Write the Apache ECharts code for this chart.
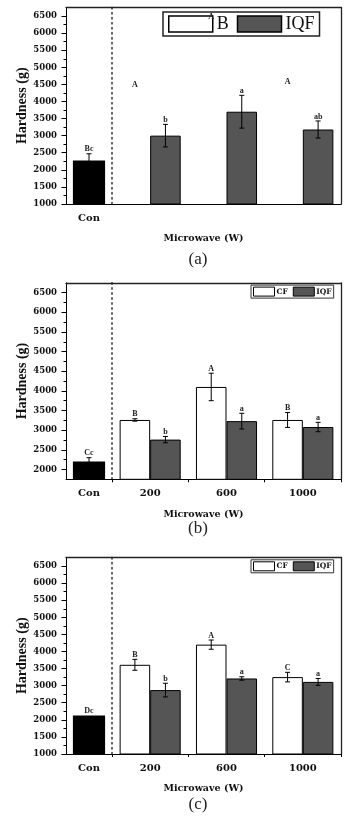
<!DOCTYPE html>
<html><head><meta charset="utf-8">
<script src="https://cdn.jsdelivr.net/npm/echarts@6/dist/echarts.min.js"></script>
<style>html,body{margin:0;padding:0;background:#fff}#c{width:355px;height:819px}</style>
</head><body><div id="c"></div>
<script>
// ---------- DATA ----------
const categoryCon = ['Con'];
const categoriesMw = ['200', '600', '1000'];
const yMajorAC = [1000, 1500, 2000, 2500, 3000, 3500, 4000, 4500, 5000, 5500, 6000, 6500];
const yMinorAC = [1250, 1750, 2250, 2750, 3250, 3750, 4250, 4750, 5250, 5750, 6250];
const yMajorB = [2000, 2500, 3000, 3500, 4000, 4500, 5000, 5500, 6000, 6500];
const yMinorB = [2250, 2750, 3250, 3750, 4250, 4750, 5250, 5750, 6250];

// panel (a)
const aConValue = [2270];
const aConErr = [200];
const aConLetters = ['Bc'];
const aCFValues = [4340, 6330, 4450];
const aCFErr = [0, 0, 0];
const aCFLetters = ['A', 'A', 'A'];
const aIQFValues = [3000, 3700, 3180];
const aIQFErr = [330, 480, 250];
const aIQFLetters = ['b', 'a', 'ab'];

// panel (b)
const bConValue = [2200];
const bConErr = [100];
const bConLetters = ['Cc'];
const bCFValues = [3260, 4100, 3260];
const bCFErr = [30, 350, 190];
const bCFLetters = ['B', 'A', 'B'];
const bIQFValues = [2760, 3230, 3080];
const bIQFErr = [80, 200, 120];
const bIQFLetters = ['b', 'a', 'a'];

// panel (c)
const cConValue = [2130];
const cConErr = [0];
const cConLetters = ['Dc'];
const cCFValues = [3610, 4200, 3250];
const cCFErr = [160, 135, 140];
const cCFLetters = ['B', 'A', 'C'];
const cIQFValues = [2870, 3210, 3110];
const cIQFErr = [200, 50, 100];
const cIQFLetters = ['b', 'a', 'a'];

// ---------- LAYOUT ----------
const panels = [
  { top: 7.5, min: 1000, max: 6750, major: yMajorAC, minor: yMinorAC,
    con: aConValue, conErr: aConErr, conLetters: aConLetters,
    cfName: 'B', cf: aCFValues, cfErr: aCFErr, cfLetters: aCFLetters, cfVisible: false,
    iqf: aIQFValues, iqfErr: aIQFErr, iqfLetters: aIQFLetters,
    mwLabels: false, boundaryTicks: false, bigLegend: true,
    titleY: 239, tagY: 260, tag: '(a)' },
  { top: 282.8, min: 1750, max: 6750, major: yMajorB, minor: yMinorB,
    con: bConValue, conErr: bConErr, conLetters: bConLetters,
    cfName: 'CF', cf: bCFValues, cfErr: bCFErr, cfLetters: bCFLetters, cfVisible: true,
    iqf: bIQFValues, iqfErr: bIQFErr, iqfLetters: bIQFLetters,
    mwLabels: true, boundaryTicks: true, bigLegend: false,
    titleY: 514.3, tagY: 528.3, tag: '(b)' },
  { top: 557.5, min: 1000, max: 6750, major: yMajorAC, minor: yMinorAC,
    con: cConValue, conErr: cConErr, conLetters: cConLetters,
    cfName: 'CF', cf: cCFValues, cfErr: cCFErr, cfLetters: cCFLetters, cfVisible: true,
    iqf: cIQFValues, iqfErr: cIQFErr, iqfLetters: cIQFLetters,
    mwLabels: true, boundaryTicks: true, bigLegend: false,
    titleY: 788.3, tagY: 805, tag: '(c)' }
];

const PLOT_LEFT = 66, SPLIT_X = 112, PLOT_RIGHT = 341, PLOT_H = 196.5;
const black = '#000';
const labelFont = { fontFamily: '"DejaVu Serif"', fontWeight: 'bold', color: '#111' };

function errRender(letters, frac, showBar) {
  return function (params, api) {
    const i = api.value(0), v = api.value(1), e = api.value(2);
    const band = api.size([1, 0])[0];
    const cx = api.coord([i, v])[0] + frac * band;
    const yTop = api.coord([i, v + e])[1];
    const yBot = api.coord([i, v - e])[1];
    const cap = 2.5;
    const ls = { stroke: black, lineWidth: 1 };
    const children = [];
    if (showBar && e > 0) {
      children.push({ type: 'line', shape: { x1: cx, y1: yTop, x2: cx, y2: yBot }, style: ls });
      children.push({ type: 'line', shape: { x1: cx - cap, y1: yTop, x2: cx + cap, y2: yTop }, style: ls });
      children.push({ type: 'line', shape: { x1: cx - cap, y1: yBot, x2: cx + cap, y2: yBot }, style: ls });
    }
    children.push({ type: 'text', x: cx, y: yTop - 0.5,
      style: { text: letters[params.dataIndex], align: 'center', verticalAlign: 'bottom',
               font: 'bold 8px "Liberation Serif"', fill: '#222' } });
    return { type: 'group', children };
  };
}

const grid = [], xAxis = [], yAxis = [], series = [], legend = [], graphic = [];

panels.forEach((p, k) => {
  const gCon = grid.length;
  grid.push({ left: PLOT_LEFT, top: p.top, width: SPLIT_X - PLOT_LEFT, height: PLOT_H });
  const gMw = grid.length;
  grid.push({ left: SPLIT_X, top: p.top, width: PLOT_RIGHT - SPLIT_X, height: PLOT_H });

  const xCon = xAxis.length;
  xAxis.push({ type: 'category', gridIndex: gCon, data: categoryCon, position: 'bottom',
    axisLine: { lineStyle: { color: black, width: 1 } },
    axisTick: { alignWithLabel: true, length: 4.5, lineStyle: { color: black } },
    axisLabel: Object.assign({ margin: 9, fontSize: 10 }, labelFont) });
  xAxis.push({ type: 'category', gridIndex: gCon, data: categoryCon, position: 'top',
    axisLine: { lineStyle: { color: '#222', width: 1.3 } }, axisTick: { show: false }, axisLabel: { show: false } });
  const xMw = xAxis.length;
  xAxis.push({ type: 'category', gridIndex: gMw, data: categoriesMw, position: 'bottom',
    axisLine: { lineStyle: { color: black, width: 1 } },
    axisTick: { show: p.boundaryTicks, length: 3, lineStyle: { color: black } },
    axisLabel: Object.assign({ show: p.mwLabels, margin: 9.5, fontSize: 10 }, labelFont) });
  xAxis.push({ type: 'category', gridIndex: gMw, data: categoriesMw, position: 'bottom',
    axisLine: { show: false },
    axisTick: { alignWithLabel: true, length: 4.5, lineStyle: { color: black } },
    axisLabel: { show: false } });
  xAxis.push({ type: 'category', gridIndex: gMw, data: categoriesMw, position: 'top',
    axisLine: { lineStyle: { color: '#222', width: 1.3 } }, axisTick: { show: false }, axisLabel: { show: false } });

  const yCon = yAxis.length;
  yAxis.push({ type: 'value', gridIndex: gCon, min: p.min, max: p.max, position: 'left',
    name: 'Hardness (g)', nameLocation: 'middle', nameGap: 36, nameRotate: 90,
    nameTextStyle: { fontFamily: '"Liberation Serif"', fontWeight: 'bold', fontSize: 14, color: '#111' },
    splitLine: { show: false },
    axisLine: { show: true, lineStyle: { color: black, width: 1 } },
    axisTick: { show: true, length: 4.5, customValues: p.major, lineStyle: { color: black } },
    axisLabel: Object.assign({ margin: 9, fontSize: 8.5, customValues: p.major, formatter: v => String(v) }, labelFont) });
  yAxis.push({ type: 'value', gridIndex: gCon, min: p.min, max: p.max, position: 'left',
    splitLine: { show: false }, axisLine: { show: false },
    axisTick: { show: true, length: 2.5, customValues: p.minor, lineStyle: { color: black } },
    axisLabel: { show: false } });
  const yMw = yAxis.length;
  yAxis.push({ type: 'value', gridIndex: gMw, min: p.min, max: p.max, position: 'left',
    splitLine: { show: false },
    axisLine: { show: true, lineStyle: { color: '#333', width: 1.5, type: [1.5, 3.5] } },
    axisTick: { show: false }, axisLabel: { show: false } });
  yAxis.push({ type: 'value', gridIndex: gMw, min: p.min, max: p.max, position: 'right',
    splitLine: { show: false },
    axisLine: { show: true, lineStyle: { color: '#222', width: 1.3 } },
    axisTick: { show: false }, axisLabel: { show: false } });

  // Con bar + error
  series.push({ type: 'bar', name: 'Con', xAxisIndex: xCon, yAxisIndex: yCon, barWidth: '70%',
    itemStyle: { color: black }, data: p.con, silent: true });
  series.push({ type: 'custom', xAxisIndex: xCon, yAxisIndex: yCon, z: 5, silent: true,
    renderItem: errRender(p.conLetters, 0, true),
    data: p.con.map((v, i) => [i, v, p.conErr[i]]) });

  // CF bars
  series.push({ type: 'bar', name: p.cfName, xAxisIndex: xMw, yAxisIndex: yMw, barWidth: '40%', barGap: '0%',
    itemStyle: { color: '#fff', borderColor: black, borderWidth: 1, opacity: p.cfVisible ? 1 : 0 },
    data: p.cf, silent: true });
  // IQF bars
  series.push({ type: 'bar', name: 'IQF', xAxisIndex: xMw, yAxisIndex: yMw, barWidth: '40%', barGap: '0%',
    itemStyle: { color: '#555555', borderColor: black, borderWidth: 1 },
    data: p.iqf, silent: true });
  series.push({ type: 'custom', xAxisIndex: xMw, yAxisIndex: yMw, z: 5, silent: true,
    renderItem: errRender(p.cfLetters, -0.2, p.cfVisible),
    data: p.cf.map((v, i) => [i, v, p.cfErr[i]]) });
  series.push({ type: 'custom', xAxisIndex: xMw, yAxisIndex: yMw, z: 5, silent: true,
    renderItem: errRender(p.iqfLetters, 0.2, true),
    data: p.iqf.map((v, i) => [i, v, p.iqfErr[i]]) });

  if (p.bigLegend) {
    legend.push({ left: 163, top: 12, padding: [3, 5], orient: 'horizontal', selectedMode: false,
      itemWidth: 44, itemHeight: 16, itemGap: 8, icon: 'rect',
      borderColor: '#222', borderWidth: 1.5, backgroundColor: '#fff',
      textStyle: { fontFamily: '"Liberation Serif"', fontSize: 18, color: '#111', padding: [0, 0, 0, -1] },
      data: [{ name: p.cfName, itemStyle: { color: '#fff', borderColor: black, borderWidth: 1.5, opacity: 1 } },
             { name: 'IQF', itemStyle: { color: '#555555', borderColor: black, borderWidth: 1.5 } }] });
  } else {
    legend.push({ left: 251, top: p.top + 2.3, padding: [1.5, 2], orient: 'horizontal', selectedMode: false,
      itemWidth: 21, itemHeight: 9, itemGap: 5, icon: 'rect',
      borderColor: '#333', borderWidth: 1, backgroundColor: '#fff',
      textStyle: { fontFamily: '"DejaVu Serif"', fontWeight: 'bold', fontSize: 7.5, color: '#111', padding: [0, 0, 0, -3] },
      data: [{ name: p.cfName, itemStyle: { color: '#fff', borderColor: black, borderWidth: 1, opacity: 1 } },
             { name: 'IQF', itemStyle: { color: '#555555', borderColor: black, borderWidth: 1 } }] });
  }

  graphic.push({ type: 'text', x: (PLOT_LEFT + PLOT_RIGHT) / 2, y: p.titleY,
    style: { text: 'Microwave (W)', align: 'center', verticalAlign: 'middle',
             font: 'bold 9.5px "DejaVu Serif"', fill: '#111' } });
  graphic.push({ type: 'text', x: 198, y: p.tagY,
    style: { text: p.tag, align: 'center', verticalAlign: 'middle',
             font: '17px "Liberation Serif"', fill: '#222' } });
});

const chart = echarts.init(document.getElementById('c'), null, { renderer: 'canvas' });
chart.setOption({ animation: false, backgroundColor: '#fff', grid, xAxis, yAxis, series, legend, graphic });
</script></body></html>
